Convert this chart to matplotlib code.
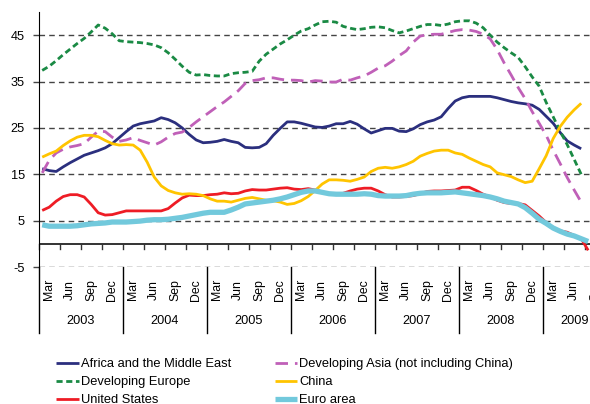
import matplotlib.pyplot as plt
import numpy as np

plt.rcParams['font.family'] = ['Liberation Sans', 'DejaVu Sans']
plt.rcParams['axes.unicode_minus'] = False

# monthly data, Jan 2003 onwards (percent change)
africa_me = [16.2, 15.8, 15.6, 16.6, 17.5, 18.3, 19.1, 19.6, 20.1, 20.7, 21.6, 22.9,
             24.2, 25.4, 25.9, 26.2, 26.5, 27.2, 26.8, 26.1, 25.0, 23.6, 22.4, 21.8,
             21.9, 22.1, 22.5, 22.1, 21.8, 20.8, 20.7, 20.8, 21.6, 23.4, 24.9, 26.3,
             26.3, 26.0, 25.6, 25.2, 25.1, 25.4, 25.9, 25.9, 26.4, 25.8, 24.8, 23.9,
             24.4, 24.9, 24.9, 24.3, 24.2, 24.8, 25.7, 26.3, 26.7, 27.4, 29.2, 30.8,
             31.5, 31.8, 31.8, 31.8, 31.8, 31.5, 31.1, 30.7, 30.4, 30.2, 29.9, 29.0,
             27.5, 26.0, 24.0, 22.2, 21.3, 20.5]
dev_europe = [37.4, 38.3, 39.5, 40.8, 42.0, 43.2, 44.3, 45.7, 47.2, 46.5, 45.3, 43.8,
              43.6, 43.5, 43.4, 43.2, 42.9, 42.3, 41.2, 39.8, 38.3, 37.0, 36.4, 36.5,
              36.3, 36.2, 36.2, 36.7, 36.9, 37.0, 37.2, 39.4, 40.9, 42.0, 43.1, 44.0,
              45.0, 45.9, 46.4, 47.2, 47.9, 48.0, 47.8, 46.9, 46.5, 46.2, 46.4, 46.7,
              46.8, 46.6, 46.0, 45.5, 45.9, 46.4, 46.9, 47.3, 47.3, 47.1, 47.4, 47.9,
              48.1, 48.1, 47.6, 46.6, 45.0, 43.5, 42.3, 41.2, 40.2, 38.2, 36.0, 34.0,
              30.5, 27.4, 24.3, 21.4, 18.2, 15.0]
united_states = [7.2, 7.9, 9.2, 10.2, 10.6, 10.6, 10.1, 8.5, 6.7, 6.2, 6.3, 6.7,
                 7.1, 7.1, 7.1, 7.1, 7.1, 7.1, 7.6, 8.8, 9.9, 10.5, 10.4, 10.4,
                 10.6, 10.7, 11.0, 10.8, 10.9, 11.4, 11.7, 11.6, 11.6, 11.8, 12.0, 12.1,
                 11.8, 11.7, 11.9, 11.6, 11.2, 10.8, 10.6, 10.9, 11.4, 11.8, 12.0, 12.0,
                 11.4, 10.6, 10.1, 10.1, 10.2, 10.4, 10.8, 11.3, 11.4, 11.4, 11.5, 11.6,
                 12.2, 12.2, 11.5, 10.7, 10.1, 9.4, 8.9, 8.7, 8.7, 8.4, 7.2, 6.0,
                 4.6, 3.4, 2.8, 2.5, 1.8, 1.1, -1.4]
dev_asia = [15.3, 18.0, 19.6, 20.4, 20.9, 21.2, 21.6, 23.0, 24.3, 24.2, 23.0, 22.1,
            22.4, 22.9, 22.3, 21.8, 21.3, 22.0, 23.0, 23.8, 24.1, 25.1, 26.3, 27.4,
            28.5, 29.6, 30.6, 31.8, 33.0, 34.6, 35.2, 35.4, 35.8, 35.8, 35.5, 35.3,
            35.3, 35.2, 34.9, 35.2, 35.1, 34.9, 34.9, 35.5, 35.3, 35.8, 36.2, 37.0,
            37.9, 38.4, 39.4, 40.6, 41.6, 43.5, 44.8, 45.1, 45.2, 45.2, 45.6, 46.0,
            46.2, 46.1, 45.8, 45.2, 44.2, 41.9, 39.0, 36.4, 33.7, 31.3, 28.5, 26.0,
            23.4, 20.2, 17.3, 14.3, 11.6, 9.0]
china = [18.7, 19.4, 20.0, 21.2, 22.2, 23.0, 23.4, 23.4, 23.1, 22.3, 21.6, 21.3,
         21.4, 21.3, 20.2, 17.6, 14.4, 12.5, 11.5, 11.0, 10.7, 10.8, 10.7, 10.4,
         9.7, 9.2, 9.2, 9.0, 9.4, 9.8, 10.0, 9.7, 9.4, 9.3, 9.0, 8.5,
         8.7, 9.3, 10.2, 11.5, 12.9, 13.8, 13.8, 13.7, 13.5, 13.9, 14.4, 15.6,
         16.3, 16.5, 16.3, 16.6, 17.1, 17.8, 18.9, 19.5, 20.0, 20.2, 20.2, 19.6,
         19.3, 18.5, 17.8, 17.1, 16.6, 15.3, 14.9, 14.5, 13.8, 13.2, 13.5, 16.2,
         19.0, 22.7, 25.3, 27.3, 28.9, 30.3]
euro_area = [4.1, 3.8, 3.8, 3.8, 3.8, 3.9, 4.1, 4.3, 4.4, 4.5, 4.7, 4.7,
             4.7, 4.8, 4.9, 5.1, 5.2, 5.2, 5.3, 5.5, 5.7, 6.0, 6.3, 6.6,
             6.8, 6.8, 6.8, 7.3, 7.9, 8.6, 8.8, 9.0, 9.2, 9.4, 9.7, 10.1,
             10.6, 11.1, 11.4, 11.4, 11.1, 10.8, 10.7, 10.7, 10.7, 10.7, 10.8, 10.7,
             10.4, 10.3, 10.3, 10.3, 10.4, 10.7, 10.9, 11.0, 11.0, 11.0, 11.1, 11.2,
             11.0, 10.8, 10.6, 10.4, 10.1, 9.7, 9.2, 8.9, 8.6, 7.8, 6.6, 5.3,
             4.4, 3.4, 2.7, 2.1, 1.7, 1.1, 0.5]

years = ['2003', '2004', '2005', '2006', '2007', '2008', '2009']
year_len = [12, 12, 12, 12, 12, 12, 9]
months = ['Mar', 'Jun', 'Sep', 'Dec']
yticks = [-5, 5, 15, 25, 35, 45]

fig = plt.figure(figsize=(5.9, 4.04), dpi=100)
ax = fig.add_axes([38.7 / 590, 1 - 267 / 404, 1 - 38.7 / 590, 255 / 404])


def xs(vals):
    return np.arange(len(vals)) + 0.5


series = [
    (africa_me, 'Africa and the Middle East', '#2b2f7e', '-', 2.0),
    (dev_europe, 'Developing Europe', '#1a8a44', (0, (2.2, 1.3)), 2.0),
    (united_states, 'United States', '#ee1c25', '-', 2.0),
    (dev_asia, 'Developing Asia (not including China)', '#c060b8', (0, (4.5, 2.5)), 2.0),
    (china, 'China', '#ffc400', '-', 2.0),
    (euro_area, 'Euro area', '#72c9dc', '-', 3.8),
]
handles = []
for vals, name, col, ls, lw in series:
    h, = ax.plot(xs(vals), vals, color=col, linestyle=ls, lw=lw, label=name,
                 solid_capstyle='butt', dash_capstyle='butt', zorder=3)
    handles.append(h)

ax.set_xlim(0, 78.76)
ax.set_ylim(-5, 50)
ax.set_yticks(yticks)
ax.set_xticks([])
ax.yaxis.grid(True, linestyle=(0, (4, 3)), color='#444444', lw=1)
ax.tick_params(axis='y', length=4, width=1, color='#444444', pad=6, labelsize=9.2)
for s in ['top', 'right', 'bottom']:
    ax.spines[s].set_visible(False)
ax.spines['left'].set_color('black')

# x axis at zero with quarterly ticks
ax.axhline(0, color='#333333', lw=1.4, zorder=2)
for q in range(0, 80, 3):
    ax.plot([q, q], [0, -1.2], color='#333333', lw=1, clip_on=False, zorder=2)

# month and year labels below the plot
for y_i, yr in enumerate(years):
    base = 12 * y_i
    for k, mon in enumerate(months):
        ax.text(base + 3 * k + 1.5, -9.9, mon, rotation=90, ha='center', va='center',
                fontsize=8.8, clip_on=False)
    ax.text(base + year_len[y_i] / 2, -16.6, yr, ha='center', va='center',
            fontsize=9.2, clip_on=False)
    ax.plot([base, base], [-5, -19.2], color='black', lw=1, clip_on=False)

fig.text(0.519, 1 + 3 / 404, '(Percent change)', ha='center', va='baseline', fontsize=10)

fig.legend(handles, [s[1] for s in series], loc='upper left', ncol=2,
           bbox_to_anchor=(56 / 590, 1 - 358 / 404), frameon=False, fontsize=9.3,
           handlelength=1.75, handletextpad=0.15, columnspacing=3.4,
           labelspacing=0.47, borderpad=0, borderaxespad=0)

fig.savefig('out.png', dpi=100)
